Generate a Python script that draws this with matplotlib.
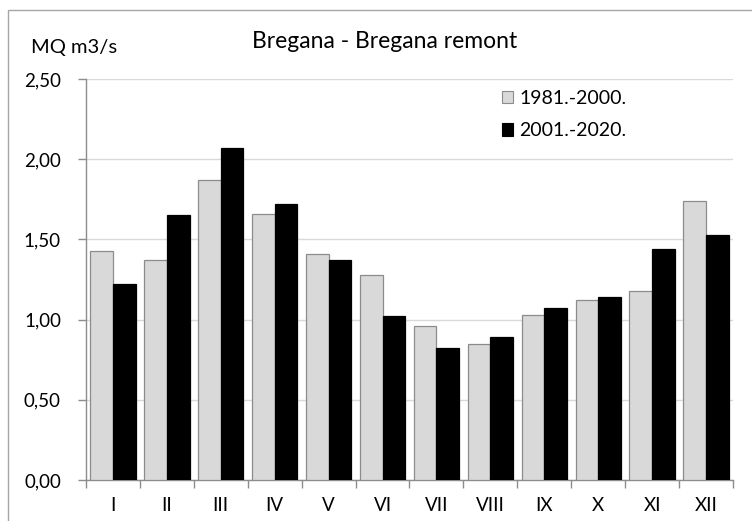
import matplotlib
matplotlib.use("Agg")
import matplotlib.pyplot as plt
from matplotlib.patches import Rectangle
from matplotlib.ticker import FuncFormatter, MultipleLocator
import numpy as np

plt.rcParams['font.family'] = ['Lato', 'DejaVu Sans']

months = ["I", "II", "III", "IV", "V", "VI", "VII", "VIII", "IX", "X", "XI", "XII"]
period_1981_2000 = [1.43, 1.37, 1.87, 1.66, 1.41, 1.28, 0.96, 0.85, 1.03, 1.12, 1.18, 1.74]
period_2001_2020 = [1.22, 1.65, 2.07, 1.72, 1.37, 1.02, 0.82, 0.89, 1.07, 1.14, 1.44, 1.53]
series_labels = ["1981.-2000.", "2001.-2020."]

W, H = 752, 521
fig = plt.figure(figsize=(W / 100, H / 100), dpi=100)
ax = fig.add_axes([86 / W, 1 - 480 / H, (733 - 86) / W, (480 - 79) / H])

x = np.arange(len(months))
bw = 0.42
ax.bar(x - bw / 2, period_1981_2000, width=bw, color="#d9d9d9",
       edgecolor="#8c8c8c", linewidth=0.9, label=series_labels[0], zorder=3)
ax.bar(x + bw / 2, period_2001_2020, width=bw, color="black",
       edgecolor="black", linewidth=0.9, label=series_labels[1], zorder=3)

ax.set_xlim(-0.5, len(months) - 0.5)
ax.set_ylim(0, 2.5)
ax.yaxis.set_major_locator(MultipleLocator(0.5))
ax.yaxis.set_major_formatter(FuncFormatter(lambda v, p: f"{v:.2f}".replace(".", ",")))
ax.yaxis.grid(True, color="#d9d9d9", linewidth=1.0, zorder=0)
ax.set_axisbelow(True)

ax.set_xticks(x)
ax.set_xticklabels(months)
ax.set_xticks(np.arange(-0.5, len(months)), minor=True)
ax.tick_params(axis="x", which="major", length=0, pad=12, labelsize=13.5)
ax.tick_params(axis="x", which="minor", length=6, color="#8c8c8c", width=1)
ax.tick_params(axis="y", length=6, color="#8c8c8c", width=1, pad=12, labelsize=13.5)

for s in ["top", "right"]:
    ax.spines[s].set_visible(False)
for s in ["left", "bottom"]:
    ax.spines[s].set_color("#8c8c8c")
    ax.spines[s].set_linewidth(1)

leg = ax.legend(loc="upper left", bbox_to_anchor=((494 - 86) / (733 - 86), 1.0 - 3 / 401),
                frameon=False, fontsize=14, handlelength=0.6, handleheight=0.6,
                handletextpad=0.3, labelspacing=0.8, borderaxespad=0)
for h in leg.legend_handles:
    h.set_linewidth(0.8)

fig.text(385 / W, 1 - 42 / H, "Bregana - Bregana remont", ha="center", va="center", fontsize=16.5)
fig.text(31 / W, 1 - 48 / H, "MQ m3/s", ha="left", va="center", fontsize=14.5)

# Outer chart frame
fig.patches.append(Rectangle((8 / W, -0.05), 1.0, 1 - 10 / H + 0.05, transform=fig.transFigure,
                             fill=False, edgecolor="#a6a6a6", linewidth=1.0))

fig.savefig("out.png", dpi=100)
